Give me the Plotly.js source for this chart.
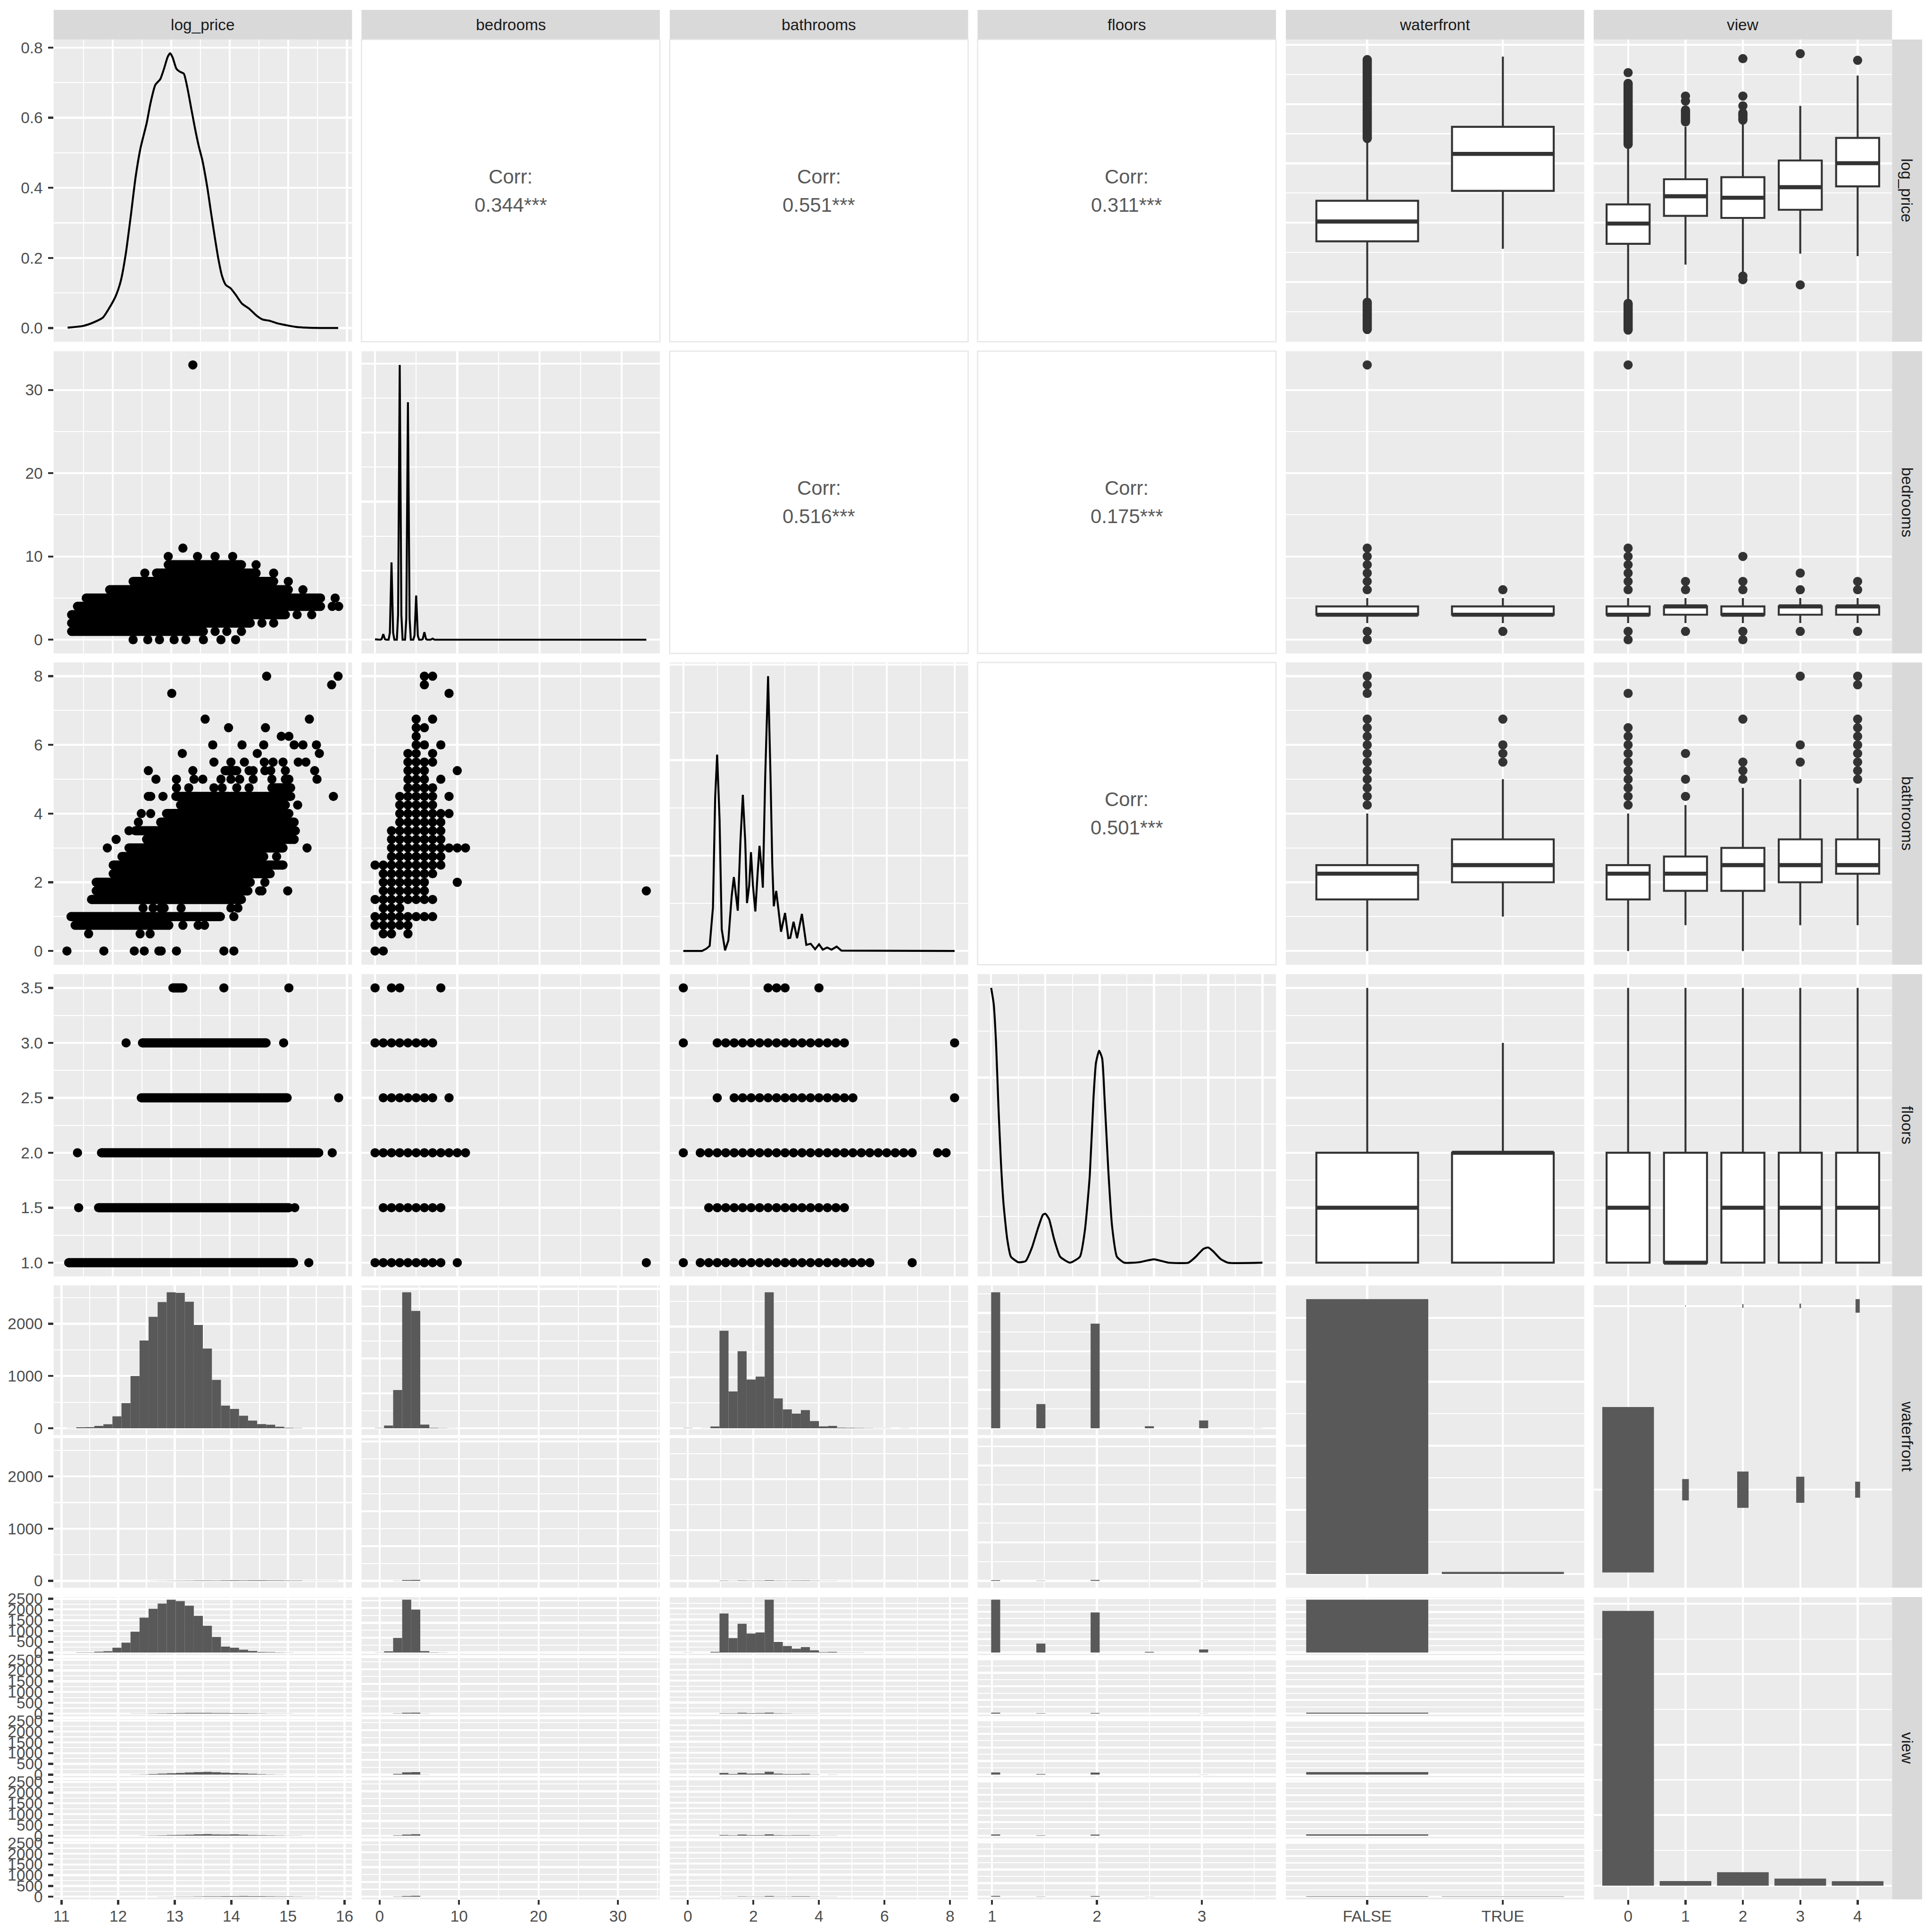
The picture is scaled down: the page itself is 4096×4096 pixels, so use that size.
<!DOCTYPE html>
<html><head><meta charset="utf-8">
<script src="https://cdn.plot.ly/plotly-3.0.1.min.js"></script>
<style>html,body{margin:0;padding:0;background:#fff}#chart{width:4096px;height:4096px}</style>
</head><body><div id="chart"></div>
<script>
// ====================== DATA ======================
const varNames = ['log_price', 'bedrooms', 'bathrooms', 'floors', 'waterfront', 'view'];
const varLimits = { log_price: [11.225, 15.857], bedrooms: [0, 33], bathrooms: [0, 8], floors: [1, 3.5] };
const waterfrontLevels = ['FALSE', 'TRUE'];
const viewLevels = ['0', '1', '2', '3', '4'];

const corrPairs = [['log_price', 'bedrooms'], ['log_price', 'bathrooms'], ['log_price', 'floors'],
                   ['bedrooms', 'bathrooms'], ['bedrooms', 'floors'], ['bathrooms', 'floors']];
const corrText = ['0.344***', '0.551***', '0.311***', '0.516***', '0.175***', '0.501***'];

// diagonal densities
const densLogPriceX = [11.232, 11.498, 11.675, 11.835, 11.928, 12.055, 12.139, 12.224, 12.308, 12.392, 12.477, 12.582, 12.646, 12.730, 12.814, 12.878, 12.941, 12.983, 13.025, 13.089, 13.152, 13.215, 13.278, 13.342, 13.405, 13.468, 13.532, 13.616, 13.679, 13.743, 13.806, 13.869, 13.932, 14.017, 14.101, 14.207, 14.333, 14.460, 14.565, 14.671, 14.819, 14.966, 15.135, 15.304, 15.557, 15.852];
const densLogPriceY = [0.001, 0.006, 0.016, 0.030, 0.053, 0.092, 0.134, 0.211, 0.317, 0.430, 0.514, 0.585, 0.641, 0.694, 0.710, 0.740, 0.774, 0.784, 0.772, 0.740, 0.731, 0.726, 0.684, 0.627, 0.571, 0.521, 0.479, 0.402, 0.331, 0.261, 0.197, 0.148, 0.123, 0.113, 0.095, 0.070, 0.055, 0.035, 0.024, 0.021, 0.013, 0.008, 0.003, 0.001, 0.000, 0.000];
const densBedroomsX = [0, 0.35, 0.65, 0.8, 0.9, 1, 1.1, 1.2, 1.35, 1.65, 1.8, 1.9, 2, 2.1, 2.2, 2.35, 2.65, 2.8, 2.9, 3, 3.1, 3.2, 3.35, 3.65, 3.8, 3.9, 4, 4.1, 4.2, 4.35, 4.65, 4.8, 4.9, 5, 5.1, 5.2, 5.35, 5.65, 5.8, 5.9, 6, 6.1, 6.2, 6.35, 6.75, 7, 7.25, 33];
const densBedroomsY = [0.003, 0, 0, 0.004, 0.022, 0.04, 0.022, 0.004, 0, 0, 0.05, 0.31, 0.56, 0.31, 0.05, 0, 0, 0.18, 1.09, 1.99, 1.09, 0.18, 0, 0, 0.155, 0.94, 1.72, 0.94, 0.155, 0, 0, 0.03, 0.18, 0.32, 0.18, 0.03, 0, 0, 0.005, 0.03, 0.055, 0.03, 0.005, 0, 0, 0.008, 0, 0];
const densBathroomsX = [0, 0.55, 0.68, 0.777, 0.874, 0.939, 0.997, 1.069, 1.133, 1.231, 1.328, 1.425, 1.49, 1.554, 1.606, 1.684, 1.755, 1.826, 1.878, 1.943, 1.995, 2.053, 2.124, 2.189, 2.247, 2.312, 2.345, 2.416, 2.5, 2.571, 2.623, 2.668, 2.740, 2.798, 2.882, 3.0, 3.096, 3.154, 3.251, 3.355, 3.497, 3.627, 3.756, 3.886, 4.003, 4.113, 4.242, 4.372, 4.521, 4.663, 4.987, 5.31, 8.0];
const densBathroomsY = [0, 0, 0.012, 0.027, 0.228, 0.804, 1.029, 0.689, 0.113, 0.003, 0.055, 0.286, 0.387, 0.286, 0.211, 0.574, 0.818, 0.574, 0.251, 0.343, 0.518, 0.343, 0.207, 0.401, 0.551, 0.424, 0.332, 0.919, 1.44, 0.919, 0.459, 0.234, 0.315, 0.228, 0.101, 0.199, 0.067, 0.069, 0.153, 0.067, 0.194, 0.032, 0.038, 0.009, 0.035, 0.007, 0.018, 0.007, 0.023, 0.002, 0.002, 0, 0];
const densFloorsX = [1.0, 1.023, 1.045, 1.068, 1.091, 1.114, 1.148, 1.182, 1.25, 1.318, 1.375, 1.432, 1.477, 1.5, 1.534, 1.580, 1.636, 1.727, 1.818, 1.864, 1.909, 1.943, 1.966, 1.995, 2.023, 2.045, 2.080, 2.114, 2.159, 2.227, 2.364, 2.5, 2.636, 2.818, 2.886, 2.955, 3.0, 3.045, 3.114, 3.182, 3.5];
const densFloorsY = [2.969, 2.80, 2.374, 1.66, 1.064, 0.636, 0.255, 0.064, 0.005, 0.017, 0.160, 0.374, 0.517, 0.529, 0.469, 0.255, 0.064, 0, 0.064, 0.35, 0.945, 1.779, 2.16, 2.29, 2.207, 1.779, 0.993, 0.398, 0.064, 0, 0.005, 0.036, 0, 0, 0.064, 0.148, 0.164, 0.124, 0.040, 0, 0];

// scatter: dense runs [yLevel, xFrom, xTo] and single points [yLevel, [x...]]
const scLpBedRuns = [[1, 11.30, 13.55], [2, 11.30, 14.35], [3, 11.30, 14.95], [4, 11.40, 15.55], [5, 11.55, 15.55], [6, 11.95, 15.0], [7, 12.35, 14.75], [8, 12.75, 14.45], [9, 12.95, 14.2]];
const scLpBedPts = [[0, [12.35, 12.6, 12.8, 13.05, 13.25, 13.55, 13.85, 14.1]], [1, [13.75, 13.95, 14.2]], [2, [14.55, 14.75]], [3, [15.15, 15.4]], [4, [15.75, 15.86]], [5, [15.8]], [6, [15.25]], [7, [15.0]], [8, [12.55, 14.75]], [9, [14.45]], [10, [12.95, 13.45, 13.75, 14.05]], [11, [13.2]], [33, [13.37]]];
const scLpBathRuns = [[0.75, 11.36, 12.96], [1.0, 11.29, 13.84], [1.5, 11.64, 14.20], [1.75, 11.72, 14.31], [2.0, 11.72, 14.35], [2.25, 12.01, 14.69], [2.5, 12.01, 14.91], [2.75, 12.16, 14.58], [3.0, 12.28, 14.91], [3.25, 12.58, 15.10], [3.5, 12.39, 15.12], [3.75, 12.82, 15.10], [4.0, 12.92, 15.01], [4.25, 13.16, 14.95], [4.5, 13.08, 15.04], [4.75, 14.72, 15.04], [5.25, 13.92, 14.12]];
const scLpBathPts = [[0, [11.22, 11.85, 12.37, 12.54, 12.79, 12.83, 13.09, 13.90, 14.07]], [0.5, [11.59, 12.47, 12.64]], [0.75, [13.20, 13.46, 13.57]], [1.0, [14.07]], [1.25, [12.52, 12.69, 12.82, 12.88, 13.17, 14.02, 14.14]], [1.75, [14.51, 14.55, 14.99]], [2.0, [14.60]], [2.75, [14.80]], [3.0, [11.91, 15.32]], [3.25, [12.06]], [3.5, [12.28]], [3.75, [12.44]], [4.0, [12.49, 12.65]], [4.25, [15.16]], [4.5, [12.61, 12.65, 12.86, 15.77]], [4.75, [13.09, 13.30, 13.73, 13.87, 14.12, 14.33]], [5.0, [12.74, 13.09, 13.39, 13.54, 13.85, 14.02, 14.17, 14.40, 14.72, 14.95, 15.01, 15.49]], [5.25, [12.61, 13.37, 14.33, 14.40, 14.60, 14.70, 14.95, 15.45]], [5.5, [13.73, 14.02, 14.25, 14.59, 14.74, 14.91, 15.17, 15.30]], [5.75, [13.19, 14.47, 15.53]], [6.0, [13.71, 14.21, 14.58, 15.10, 15.25, 15.48]], [6.25, [14.88, 15.01]], [6.5, [13.98, 14.61]], [6.75, [13.58, 15.36]], [7.5, [13.01]], [7.75, [15.74]], [8.0, [14.63, 15.85]]];
const scBedBathPts = [[0, [0, 1]], [0.5, [1, 2, 4]], [0.75, [0, 1, 2, 3, 4]], [1.0, [0, 1, 2, 3, 4, 5, 6, 7]], [1.25, [1, 2, 3]], [1.5, [0, 1, 2, 3, 4, 5, 6, 7]], [1.75, [1, 2, 3, 4, 5, 6, 33]], [2.0, [1, 2, 3, 4, 5, 6, 10]], [2.25, [1, 2, 3, 4, 5, 6, 7]], [2.5, [0, 1, 2, 3, 4, 5, 6, 7, 8]], [2.75, [2, 3, 4, 5, 6, 7, 8]], [3.0, [2, 3, 4, 5, 6, 7, 8, 9, 10, 11]], [3.25, [2, 3, 4, 5, 6, 7, 8]], [3.5, [2, 3, 4, 5, 6, 7, 8]], [3.75, [3, 4, 5, 6, 7, 8]], [4.0, [3, 4, 5, 6, 7, 8, 9]], [4.25, [3, 4, 5, 6, 7]], [4.5, [3, 4, 5, 6, 7, 9]], [4.75, [4, 5, 6, 7]], [5.0, [4, 5, 6, 8]], [5.25, [4, 5, 6, 10]], [5.5, [4, 5, 6, 7]], [5.75, [4, 5, 7]], [6.0, [5, 6, 8]], [6.25, [5]], [6.5, [5, 6]], [6.75, [5, 7]], [7.5, [9]], [7.75, [6]], [8.0, [6, 7]]];
const scLpFloorRuns = [[3.5, 13.03, 13.20], [3.0, 12.51, 14.62], [2.5, 12.49, 14.98], [2.0, 11.81, 15.52], [1.5, 11.76, 15.01], [1.0, 11.25, 15.09]];
const scLpFloorPts = [[3.5, [13.90, 15.01]], [3.0, [12.23, 14.92]], [2.5, [15.86]], [2.0, [11.40, 15.75]], [1.5, [11.42, 15.11]], [1.0, [15.35]]];
const scBedFloorPts = [[3.5, [0, 2, 3, 8]], [3.0, [0, 1, 2, 3, 4, 5, 6, 7]], [2.5, [1, 2, 3, 4, 5, 6, 7, 9]], [2.0, [0, 1, 2, 3, 4, 5, 6, 7, 8, 9, 10, 11]], [1.5, [1, 2, 3, 4, 5, 6, 7, 8]], [1.0, [0, 1, 2, 3, 4, 5, 6, 7, 8, 10, 33]]];
const scBathFloorPts = [[3.5, [0, 2.5, 2.75, 3, 4]],
  [3.0, [0, 1, 1.25, 1.5, 1.75, 2, 2.25, 2.5, 2.75, 3, 3.25, 3.5, 3.75, 4, 4.25, 4.5, 4.75, 8]],
  [2.5, [1, 1.5, 1.75, 2, 2.25, 2.5, 2.75, 3, 3.25, 3.5, 3.75, 4, 4.25, 4.5, 4.75, 5, 8]],
  [2.0, [0, 0.5, 0.75, 1, 1.25, 1.5, 1.75, 2, 2.25, 2.5, 2.75, 3, 3.25, 3.5, 3.75, 4, 4.25, 4.5, 4.75, 5, 5.25, 5.5, 5.75, 6, 6.25, 6.5, 6.75, 7.5, 7.75]],
  [1.5, [0.75, 1, 1.25, 1.5, 1.75, 2, 2.25, 2.5, 2.75, 3, 3.25, 3.5, 3.75, 4, 4.25, 4.5, 4.75]],
  [1.0, [0, 0.5, 0.75, 1, 1.25, 1.5, 1.75, 2, 2.25, 2.5, 2.75, 3, 3.25, 3.5, 3.75, 4, 4.25, 4.5, 4.75, 5, 5.25, 5.5, 6.75]]];

// box plots: each row = [q1, median, q3, whiskerLow, whiskerHigh]
const boxLpByWaterfront = [[12.687, 13.02, 13.37, 11.69, 14.39], [13.537, 14.16, 14.617, 12.56, 15.80]];
const outLpByWaterfront = [[], []];
const runLpByWaterfront = [[[14.42, 15.75], [11.20, 11.66]], []];
const boxLpByView = [[12.645, 12.985, 13.309, 11.655, 14.30], [13.115, 13.446, 13.733, 12.293, 14.617], [13.081, 13.421, 13.767, 12.168, 14.679], [13.218, 13.599, 14.049, 12.478, 14.97], [13.612, 14.003, 14.43, 12.437, 15.48]];
const outLpByView = [[15.53], [15.05, 15.135], [15.766, 15.135, 14.97, 12.10, 12.04], [15.85, 11.952], [15.738]];
const runLpByView = [[[14.32, 15.35], [11.19, 11.64]], [[14.70, 14.90]], [[14.73, 14.85]], [], []];
const boxBedByWaterfront = [[3, 3, 4, 2, 5], [3, 3, 4, 2, 5]];
const outBedByWaterfront = [[0, 1, 6, 7, 8, 9, 10, 11, 33], [1, 6]];
const boxBedByView = [[3, 3, 4, 2, 5], [3, 4, 4, 2, 5], [3, 3, 4, 2, 5], [3, 4, 4, 2, 5], [3, 4, 4, 2, 5]];
const outBedByView = [[0, 1, 6, 7, 8, 9, 10, 11, 33], [1, 6, 7], [0, 1, 6, 7, 10], [1, 6, 8], [1, 6, 7]];
const boxBathByWaterfront = [[1.5, 2.25, 2.5, 0, 4.0], [2.0, 2.5, 3.25, 1.0, 5.0]];
const outBathByWaterfront = [[4.25, 4.5, 4.75, 5, 5.25, 5.5, 5.75, 6, 6.25, 6.5, 6.75, 7.5, 7.75, 8], [5.5, 5.75, 6.0, 6.75]];
const boxBathByView = [[1.5, 2.25, 2.5, 0, 4.0], [1.75, 2.25, 2.75, 0.75, 4.25], [1.75, 2.5, 3.0, 0, 4.75], [2.0, 2.5, 3.25, 0.75, 5.0], [2.25, 2.5, 3.25, 0.75, 4.75]];
const outBathByView = [[4.25, 4.5, 4.75, 5, 5.25, 5.5, 5.75, 6, 6.25, 6.5, 7.5], [4.5, 5.0, 5.75], [5.0, 5.25, 5.5, 6.75], [5.5, 6.0, 8.0], [5.0, 5.25, 5.5, 5.75, 6.0, 6.25, 6.5, 6.75, 7.75, 8.0]];
const boxFloorByWaterfront = [[1, 1.5, 2, 1, 3.5], [1, 2, 2, 1, 3]];
const boxFloorByView = [[1, 1.5, 2, 1, 3.5], [1, 1, 2, 1, 3.5], [1, 1.5, 2, 1, 3.5], [1, 1.5, 2, 1, 3.5], [1, 1.5, 2, 1, 3.5]];

// histograms: log_price bin counts (30 bins)
const lpBinsWfFalse = [2, 17, 21, 46, 76, 227, 480, 1001, 1679, 2133, 2415, 2604, 2592, 2423, 1977, 1527, 926, 433, 370, 240, 147, 80, 67, 29, 8, 4, 1, 1, 0, 1];
const lpBinsWfTrue = [0, 0, 0, 0, 0, 0, 0, 0, 0, 2, 3, 4, 5, 6, 8, 8, 7, 10, 11, 10, 12, 11, 10, 9, 8, 7, 4, 3, 2, 2];
const lpBinsView0 = [2, 10, 10, 40, 60, 225, 460, 970, 1622, 2030, 2275, 2451, 2388, 2173, 1704, 1245, 724, 276, 225, 133, 71, 30, 20, 10, 3, 1, 0, 0, 0, 0];
const lpBinsView1 = [0, 0, 0, 0, 0, 0, 1, 2, 4, 8, 14, 20, 26, 30, 32, 30, 28, 25, 22, 18, 14, 9, 5, 3, 2, 1, 0, 0, 0, 0];
const lpBinsView2 = [0, 0, 0, 0, 0, 1, 3, 6, 14, 28, 45, 62, 80, 100, 118, 130, 110, 90, 72, 55, 40, 25, 16, 10, 5, 3, 2, 1, 0, 0];
const lpBinsView3 = [0, 0, 0, 0, 0, 0, 1, 2, 5, 10, 17, 26, 34, 45, 60, 70, 55, 50, 60, 45, 30, 22, 15, 10, 6, 4, 2, 1, 0, 0];
const lpBinsView4 = [0, 0, 0, 0, 0, 0, 0, 0, 1, 2, 4, 6, 9, 12, 16, 22, 24, 26, 28, 30, 28, 26, 22, 18, 14, 10, 6, 3, 2, 1];
// discrete variables: counts per level
const bedLevels = [0, 1, 2, 3, 4, 5, 6, 7, 8, 9, 10, 11, 33];
const bedCountsWfFalse = [13, 196, 2745, 9760, 6830, 1585, 265, 37, 13, 6, 3, 1, 1];
const bedCountsWfTrue = [0, 3, 15, 64, 56, 18, 7, 0, 0, 0, 0, 0, 0];
const bedCountsView0 = [12, 190, 2470, 8900, 5900, 1340, 230, 32, 11, 6, 3, 1, 1];
const bedCountsView1 = [0, 2, 40, 130, 120, 30, 7, 3, 0, 0, 0, 0, 0];
const bedCountsView2 = [1, 4, 130, 380, 330, 90, 20, 5, 0, 0, 1, 0, 0];
const bedCountsView3 = [0, 2, 60, 190, 190, 55, 10, 0, 1, 0, 0, 0, 0];
const bedCountsView4 = [0, 1, 40, 110, 125, 34, 7, 2, 0, 0, 0, 0, 0];
const bathLevels = [0, 0.5, 0.75, 1, 1.25, 1.5, 1.75, 2, 2.25, 2.5, 2.75, 3, 3.25, 3.5, 3.75, 4, 4.25, 4.5, 4.75, 5, 5.25, 5.5, 5.75, 6, 6.25, 6.5, 6.75, 7.5, 7.75, 8];
const bathCountsWfFalse = [10, 4, 72, 3840, 9, 1440, 3032, 1920, 2035, 5356, 1173, 743, 575, 715, 150, 131, 74, 94, 21, 18, 12, 9, 3, 5, 2, 2, 1, 1, 1, 2];
const bathCountsWfTrue = [0, 0, 0, 12, 0, 6, 16, 10, 12, 24, 12, 10, 14, 16, 5, 5, 5, 6, 2, 3, 1, 1, 1, 1, 0, 0, 1, 0, 0, 0];
const bathCountsView0 = [10, 4, 68, 3550, 9, 1300, 2620, 1725, 1825, 4800, 970, 595, 340, 495, 110, 90, 42, 60, 12, 10, 6, 4, 2, 2, 1, 1, 0, 1, 0, 0];
const bathCountsView1 = [0, 0, 1, 30, 0, 25, 70, 40, 50, 80, 25, 15, 12, 10, 3, 2, 2, 2, 0, 1, 0, 0, 1, 0, 0, 0, 0, 0, 0, 0];
const bathCountsView2 = [1, 0, 2, 150, 0, 60, 180, 90, 100, 260, 90, 60, 60, 80, 16, 14, 10, 15, 4, 4, 2, 2, 0, 0, 0, 0, 1, 0, 0, 0];
const bathCountsView3 = [0, 0, 1, 60, 0, 30, 100, 40, 45, 120, 40, 30, 40, 50, 10, 10, 8, 10, 2, 3, 0, 2, 0, 1, 0, 0, 0, 0, 0, 1];
const bathCountsView4 = [0, 0, 1, 15, 0, 10, 30, 20, 25, 60, 25, 25, 40, 40, 12, 13, 10, 12, 4, 3, 3, 2, 1, 1, 1, 1, 1, 0, 1, 1];
const floorLevels = [1, 1.5, 2, 2.5, 3, 3.5];
const floorCountsWfFalse = [10620, 1890, 8170, 158, 605, 8];
const floorCountsWfTrue = [60, 20, 72, 3, 8, 0];
const floorCountsView0 = [9700, 1650, 7370, 120, 560, 4];
const floorCountsView1 = [160, 50, 110, 4, 7, 1];
const floorCountsView2 = [410, 110, 370, 15, 25, 1];
const floorCountsView3 = [230, 60, 200, 10, 10, 1];
const floorCountsView4 = [140, 40, 125, 10, 4, 1];
// categorical counts
const waterfrontCounts = [21450, 163];
const viewCounts = [19489, 327, 950, 498, 312];
const viewCountsWfFalse = [19489, 325, 940, 483, 182];
const viewCountsWfTrue = [0, 2, 10, 15, 130];

// ====================== STYLE / GEOMETRY ======================
const W = 4500;                       // reference pixel space; paper fraction = px / W
const COL_L = [125, 842, 1560, 2277, 2995, 3712], PW = 695;
const ROW_T = [92, 818, 1543, 2269, 2994, 3720], PH = 704;
const SUB_GAP = 7;
const STRIP_TOP = 23, STRIP_RIGHT_L = 4407, STRIP_RIGHT_R = 4477;
const FONT = 'Liberation Sans, Arial, Helvetica, sans-serif';
const TICK_FS = 33.4, STRIP_FS = 33.4, CORR_FS = 41.9;
const GRID_MAJ = 4.3, GRID_MIN = 2.1, TICK_W = 4.3, TICK_LEN = 10.5;
const PT = 19.5, LINE_W = 4.2, BOX_W = 4.2, MED_W = 8.6;
const BAR_COL = '#595959', BOX_COL = '#333333';
const COUNT_Y_RANGE = [0.467, 2.1115];

// ====================== HELPERS ======================
function extendedBreaks(dmin, dmax, m = 5) {
  const Q = [1, 5, 2, 2.5, 4, 3], w = [0.25, 0.2, 0.5, 0.05];
  const n = Q.length, eps = 1e-10;
  const mod = (a, b) => ((a % b) + b) % b;
  const simplicity = (i, j, lmin, lmax, lstep) => {
    const r = mod(lmin, lstep);
    const v = ((r < eps || lstep - r < eps) && lmin <= 0 && lmax >= 0) ? 1 : 0;
    return 1 - i / (n - 1) - j + v;
  };
  const simplicityMax = (i, j) => 1 - i / (n - 1) - j + 1;
  const rng = dmax - dmin;
  const coverage = (lmin, lmax) => 1 - 0.5 * ((dmax - lmax) ** 2 + (dmin - lmin) ** 2) / ((0.1 * rng) ** 2);
  const coverageMax = span => { if (span > rng) { const h = (span - rng) / 2; return 1 - 0.5 * (2 * h * h) / ((0.1 * rng) ** 2); } return 1; };
  const density = (k, lmin, lmax) => { const r = (k - 1) / (lmax - lmin); const rt = (m - 1) / (Math.max(lmax, dmax) - Math.min(dmin, lmin)); return 2 - Math.max(r / rt, rt / r); };
  const densityMax = k => k >= m ? 2 - (k - 1) / (m - 1) : 1;
  let best = { score: -2 };
  let j = 1;
  outer: while (j < 40) {
    for (let qi = 0; qi < n; qi++) {
      const q = Q[qi];
      const sm = simplicityMax(qi, j);
      if (w[0] * sm + w[1] + w[2] + w[3] < best.score) break outer;
      let k = 2;
      while (k < 40) {
        const dm = densityMax(k);
        if (w[0] * sm + w[1] + w[2] * dm + w[3] < best.score) break;
        const delta = rng / (k + 1) / j / q;
        let z = Math.ceil(Math.log10(delta));
        while (z < 30) {
          const step = j * q * Math.pow(10, z);
          const cm = coverageMax(step * (k - 1));
          if (w[0] * sm + w[1] * cm + w[2] * dm + w[3] < best.score) break;
          const minStart = Math.floor(dmax / step) * j - (k - 1) * j;
          const maxStart = Math.ceil(dmin / step) * j;
          if (minStart > maxStart) { z++; continue; }
          for (let start = minStart; start <= maxStart; start++) {
            const lmin = start * (step / j), lmax = lmin + step * (k - 1);
            const score = w[0] * simplicity(qi, j, lmin, lmax, step) + w[1] * coverage(lmin, lmax) + w[2] * density(k, lmin, lmax) + w[3];
            if (score > best.score) best = { lmin, lmax, lstep: step, score };
          }
          z++;
        }
        k++;
      }
    }
    j++;
  }
  const out = [];
  for (let i = 0; ; i++) { const v = best.lmin + i * best.lstep; if (v > best.lmax + best.lstep * 1e-6) break; out.push(+v.toFixed(10)); }
  return out;
}
function minorBreaks(major, range) {
  if (major.length < 2) return [];
  const bd = major[1] - major[0];
  const b = major.slice();
  if (range[0] < b[0]) b.unshift(b[0] - bd);
  if (range[1] > b[b.length - 1]) b.push(b[b.length - 1] + bd);
  const out = [];
  for (let i = 0; i < b.length - 1; i++) out.push((b[i] + b[i + 1]) / 2);
  return out.filter(v => v >= range[0] && v <= range[1]);
}
function fmtLabels(vals) {
  let d = 0;
  vals.forEach(v => { const s = String(+v.toFixed(8)); const i = s.indexOf('.'); if (i >= 0) d = Math.max(d, s.length - i - 1); });
  return vals.map(v => v.toFixed(d));
}
const expand = (lo, hi) => { const d = hi - lo; return [lo - 0.05 * d, hi + 0.05 * d]; };
function contSpec(range) {
  const major = extendedBreaks(range[0], range[1]).filter(v => v >= range[0] - 1e-9 && v <= range[1] + 1e-9);
  return { range, major, minor: minorBreaks(major, range), labels: fmtLabels(major) };
}
function discSpec(labels) { return { range: [0.4, labels.length + 0.6], major: labels.map((_, i) => i + 1), minor: [], labels }; }

const traces = [];
const layout = {
  width: 4096, height: 4096, margin: { l: 0, r: 0, t: 0, b: 0 },
  paper_bgcolor: '#FFFFFF', plot_bgcolor: '#EBEBEB', showlegend: false, barmode: 'overlay',
  font: { family: FONT }, shapes: [], annotations: []
};
let axCount = 0;
function axisDef(spec, domain, anchor, show, isX) {
  return {
    domain, anchor, range: spec.range, autorange: false, fixedrange: true,
    showgrid: true, gridcolor: '#FFFFFF', gridwidth: GRID_MAJ, zeroline: false, showline: false,
    tickmode: 'array', tickvals: spec.major, ticktext: spec.labels,
    ticks: show ? 'outside' : '', ticklen: TICK_LEN, tickwidth: TICK_W, tickcolor: '#333333',
    showticklabels: show, tickfont: { family: FONT, size: TICK_FS, color: '#4D4D4D' }, ticklabelstandoff: isX ? -4 : 5,
    minor: { showgrid: spec.minor.length > 0, gridcolor: '#FFFFFF', gridwidth: GRID_MIN, tickmode: 'array', tickvals: spec.minor, ticks: '' }
  };
}
function addPanel(rect, xs, ys, showX, showY) {
  axCount++;
  const s = axCount === 1 ? '' : String(axCount);
  layout['xaxis' + s] = axisDef(xs, [rect.left / W, (rect.left + rect.w) / W], 'y' + s, showX, true);
  layout['yaxis' + s] = axisDef(ys, [1 - (rect.top + rect.h) / W, 1 - rect.top / W], 'x' + s, showY, false);
  return { x: 'x' + s, y: 'y' + s };
}
const cell = (r, c) => ({ left: COL_L[c], top: ROW_T[r], w: PW, h: PH });
function subCell(r, c, i, n) { const h = (PH - SUB_GAP * (n - 1)) / n; return { left: COL_L[c], top: ROW_T[r] + i * (h + SUB_GAP), w: PW, h }; }

function addLine(ax, x, y, smooth) {
  traces.push({ type: 'scatter', mode: 'lines', x, y, xaxis: ax.x, yaxis: ax.y, line: { color: '#000000', width: LINE_W, shape: smooth ? 'spline' : 'linear', smoothing: smooth || 0 }, hoverinfo: 'skip' });
}
function addPoints(ax, rows, color) {
  const x = [], y = [];
  rows.forEach(([lev, vals]) => vals.forEach(v => { x.push(v); y.push(lev); }));
  traces.push({ type: 'scatter', mode: 'markers', x, y, xaxis: ax.x, yaxis: ax.y, marker: { size: PT, color: color || '#000000', line: { width: 0 } }, hoverinfo: 'skip' });
}
function addRuns(ax, runs, color) {
  const x = [], y = [];
  runs.forEach(([lev, a, b]) => { x.push(a, b, null); y.push(lev, lev, null); });
  traces.push({ type: 'scatter', mode: 'lines+markers', x, y, xaxis: ax.x, yaxis: ax.y, line: { color: color || '#000000', width: PT }, marker: { size: PT, color: color || '#000000', line: { width: 0 } }, hoverinfo: 'skip' });
}
function addBoxes(ax, stats, outs, runs) {
  const pos = stats.map((_, i) => i + 1);
  traces.push({ type: 'box', x: pos, q1: stats.map(s => s[0]), median: stats.map(s => s[1]), q3: stats.map(s => s[2]),
    lowerfence: stats.map(s => s[3]), upperfence: stats.map(s => s[4]), width: 0.75, whiskerwidth: 0,
    fillcolor: '#FFFFFF', line: { color: BOX_COL, width: BOX_W }, boxpoints: false, xaxis: ax.x, yaxis: ax.y, hoverinfo: 'skip' });
  const mx = [], my = [];
  stats.forEach((s, i) => { mx.push(i + 1 - 0.375, i + 1 + 0.375, null); my.push(s[1], s[1], null); });
  traces.push({ type: 'scatter', mode: 'lines', x: mx, y: my, xaxis: ax.x, yaxis: ax.y, line: { color: BOX_COL, width: MED_W }, hoverinfo: 'skip' });
  if (outs) {
    const ox = [], oy = [];
    outs.forEach((arr, i) => arr.forEach(v => { ox.push(i + 1); oy.push(v); }));
    traces.push({ type: 'scatter', mode: 'markers', x: ox, y: oy, xaxis: ax.x, yaxis: ax.y, marker: { size: PT, color: BOX_COL, line: { width: 0 } }, hoverinfo: 'skip' });
  }
  if (runs) {
    const rx = [], ry = [];
    runs.forEach((arr, i) => arr.forEach(([a, b]) => { rx.push(i + 1, i + 1, null); ry.push(a, b, null); }));
    traces.push({ type: 'scatter', mode: 'lines+markers', x: rx, y: ry, xaxis: ax.x, yaxis: ax.y, line: { color: BOX_COL, width: PT }, marker: { size: PT, color: BOX_COL, line: { width: 0 } }, hoverinfo: 'skip' });
  }
}
function addBars(ax, x, y, width) {
  traces.push({ type: 'bar', x, y, width, xaxis: ax.x, yaxis: ax.y, marker: { color: BAR_COL, line: { width: 0 } }, hoverinfo: 'skip' });
}
function binSetup(v) {
  const [lo, hi] = varLimits[v];
  const width = (hi - lo) / 29, boundary = width / 2;
  const origin = boundary + Math.floor((lo - boundary) / width) * width;
  const nb = Math.floor((hi + (1 - 1e-8) * width - origin) / width);
  const centers = []; for (let k = 0; k < nb; k++) centers.push(origin + (k + 0.5) * width);
  return { origin, width, nb, centers, range: expand(origin, origin + nb * width) };
}
function binLevels(levels, counts, b) {
  const out = new Array(b.nb).fill(0);
  levels.forEach((v, i) => { let k = Math.ceil((v - b.origin) / b.width - 1e-7) - 1; k = Math.max(0, Math.min(b.nb - 1, k)); out[k] += counts[i]; });
  return out;
}
function histFacets(r, c, b, facets) {
  const M = Math.max(...facets.map(f => Math.max(...f)));
  const ys = contSpec([-0.05 * M, 1.05 * M]);
  const xs = contSpec(b.range);
  facets.forEach((f, i) => {
    const ax = addPanel(subCell(r, c, i, facets.length), xs, ys, r === 5 && i === facets.length - 1, c === 0);
    addBars(ax, b.centers, f, b.width);
  });
}

// ====================== BUILD ======================
const idx = v => varNames.indexOf(v);
const spec = {
  log_price: contSpec(expand(...varLimits.log_price)),
  bedrooms: contSpec(expand(...varLimits.bedrooms)),
  bathrooms: contSpec(expand(...varLimits.bathrooms)),
  floors: contSpec(expand(...varLimits.floors)),
  waterfront: discSpec(waterfrontLevels),
  view: discSpec(viewLevels)
};
const densSpec = ys => contSpec([-0.05 * Math.max(...ys), 1.05 * Math.max(...ys)]);

// strips
varNames.forEach((v, i) => {
  layout.shapes.push({ type: 'rect', xref: 'paper', yref: 'paper', x0: COL_L[i] / W, x1: (COL_L[i] + PW) / W, y0: 1 - ROW_T[0] / W, y1: 1 - STRIP_TOP / W, fillcolor: '#D9D9D9', line: { width: 0 }, layer: 'below' });
  layout.annotations.push({ xref: 'paper', yref: 'paper', x: (COL_L[i] + PW / 2) / W, y: 1 - (STRIP_TOP + ROW_T[0]) / 2 / W, text: v, showarrow: false, xanchor: 'center', yanchor: 'middle', font: { family: FONT, size: STRIP_FS, color: '#1A1A1A' } });
  layout.shapes.push({ type: 'rect', xref: 'paper', yref: 'paper', x0: STRIP_RIGHT_L / W, x1: STRIP_RIGHT_R / W, y0: 1 - (ROW_T[i] + PH) / W, y1: 1 - ROW_T[i] / W, fillcolor: '#D9D9D9', line: { width: 0 }, layer: 'below' });
  layout.annotations.push({ xref: 'paper', yref: 'paper', x: (STRIP_RIGHT_L + STRIP_RIGHT_R) / 2 / W, y: 1 - (ROW_T[i] + PH / 2) / W, text: v, textangle: 90, showarrow: false, xanchor: 'center', yanchor: 'middle', font: { family: FONT, size: STRIP_FS, color: '#1A1A1A' } });
});

// correlation cells
corrPairs.forEach(([a, b], k) => {
  const r = idx(a), c = idx(b);
  layout.shapes.push({ type: 'rect', xref: 'paper', yref: 'paper', x0: COL_L[c] / W, x1: (COL_L[c] + PW) / W, y0: 1 - (ROW_T[r] + PH) / W, y1: 1 - ROW_T[r] / W, fillcolor: '#FFFFFF', line: { color: '#E6E6E6', width: 2.5 }, layer: 'below' });
  const cx = (COL_L[c] + PW / 2) / W, cy = ROW_T[r] + PH / 2;
  layout.annotations.push({ xref: 'paper', yref: 'paper', x: cx, y: 1 - (cy - 33) / W, text: 'Corr:', showarrow: false, xanchor: 'center', yanchor: 'middle', font: { family: FONT, size: CORR_FS, color: '#595959' } });
  layout.annotations.push({ xref: 'paper', yref: 'paper', x: cx, y: 1 - (cy + 33) / W, text: corrText[k], showarrow: false, xanchor: 'center', yanchor: 'middle', font: { family: FONT, size: CORR_FS, color: '#595959' } });
});

// row 1
let ax = addPanel(cell(0, 0), spec.log_price, densSpec(densLogPriceY), false, true);
addLine(ax, densLogPriceX, densLogPriceY, 0.6);
ax = addPanel(cell(0, 4), spec.waterfront, spec.log_price, false, false);
addBoxes(ax, boxLpByWaterfront, outLpByWaterfront, runLpByWaterfront);
ax = addPanel(cell(0, 5), spec.view, spec.log_price, false, false);
addBoxes(ax, boxLpByView, outLpByView, runLpByView);

// row 2
ax = addPanel(cell(1, 0), spec.log_price, spec.bedrooms, false, true);
addRuns(ax, scLpBedRuns); addPoints(ax, scLpBedPts);
ax = addPanel(cell(1, 1), spec.bedrooms, densSpec(densBedroomsY), false, false);
addLine(ax, densBedroomsX, densBedroomsY);
ax = addPanel(cell(1, 4), spec.waterfront, spec.bedrooms, false, false);
addBoxes(ax, boxBedByWaterfront, outBedByWaterfront);
ax = addPanel(cell(1, 5), spec.view, spec.bedrooms, false, false);
addBoxes(ax, boxBedByView, outBedByView);

// row 3
ax = addPanel(cell(2, 0), spec.log_price, spec.bathrooms, false, true);
addRuns(ax, scLpBathRuns); addPoints(ax, scLpBathPts);
ax = addPanel(cell(2, 1), spec.bedrooms, spec.bathrooms, false, false);
addPoints(ax, scBedBathPts);
ax = addPanel(cell(2, 2), spec.bathrooms, densSpec(densBathroomsY), false, false);
addLine(ax, densBathroomsX, densBathroomsY);
ax = addPanel(cell(2, 4), spec.waterfront, spec.bathrooms, false, false);
addBoxes(ax, boxBathByWaterfront, outBathByWaterfront);
ax = addPanel(cell(2, 5), spec.view, spec.bathrooms, false, false);
addBoxes(ax, boxBathByView, outBathByView);

// row 4
ax = addPanel(cell(3, 0), spec.log_price, spec.floors, false, true);
addRuns(ax, scLpFloorRuns); addPoints(ax, scLpFloorPts);
ax = addPanel(cell(3, 1), spec.bedrooms, spec.floors, false, false);
addPoints(ax, scBedFloorPts);
ax = addPanel(cell(3, 2), spec.bathrooms, spec.floors, false, false);
addPoints(ax, scBathFloorPts);
ax = addPanel(cell(3, 3), spec.floors, densSpec(densFloorsY), false, false);
addLine(ax, densFloorsX, densFloorsY, 0.5);
ax = addPanel(cell(3, 4), spec.waterfront, spec.floors, false, false);
addBoxes(ax, boxFloorByWaterfront);
ax = addPanel(cell(3, 5), spec.view, spec.floors, false, false);
addBoxes(ax, boxFloorByView);

// rows 5-6: faceted histograms
const bLp = binSetup('log_price'), bBed = binSetup('bedrooms'), bBath = binSetup('bathrooms'), bFloor = binSetup('floors');
histFacets(4, 0, bLp, [lpBinsWfFalse, lpBinsWfTrue]);
histFacets(4, 1, bBed, [binLevels(bedLevels, bedCountsWfFalse, bBed), binLevels(bedLevels, bedCountsWfTrue, bBed)]);
histFacets(4, 2, bBath, [binLevels(bathLevels, bathCountsWfFalse, bBath), binLevels(bathLevels, bathCountsWfTrue, bBath)]);
histFacets(4, 3, bFloor, [binLevels(floorLevels, floorCountsWfFalse, bFloor), binLevels(floorLevels, floorCountsWfTrue, bFloor)]);
histFacets(5, 0, bLp, [lpBinsView0, lpBinsView1, lpBinsView2, lpBinsView3, lpBinsView4]);
histFacets(5, 1, bBed, [bedCountsView0, bedCountsView1, bedCountsView2, bedCountsView3, bedCountsView4].map(c => binLevels(bedLevels, c, bBed)));
histFacets(5, 2, bBath, [bathCountsView0, bathCountsView1, bathCountsView2, bathCountsView3, bathCountsView4].map(c => binLevels(bathLevels, c, bBath)));
histFacets(5, 3, bFloor, [floorCountsView0, floorCountsView1, floorCountsView2, floorCountsView3, floorCountsView4].map(c => binLevels(floorLevels, c, bFloor)));

// (5,5) waterfront bar
ax = addPanel(cell(4, 4), spec.waterfront, contSpec([-0.05 * Math.max(...waterfrontCounts), 1.05 * Math.max(...waterfrontCounts)]), false, false);
addBars(ax, [1, 2], waterfrontCounts, 0.9);

// (5,6) count rectangles view x waterfront
ax = addPanel(cell(4, 5), spec.view, { range: COUNT_Y_RANGE, major: [1, 2], minor: [], labels: waterfrontLevels }, false, false);
{
  const maxN = Math.max(...viewCountsWfFalse, ...viewCountsWfTrue);
  const rx = [], ry = [];
  [viewCountsWfFalse, viewCountsWfTrue].forEach((arr, j) => arr.forEach((n, i) => {
    if (n <= 0) return;
    const s = 0.45 * Math.sqrt(n / maxN), cx = i + 1, cy = j + 1;
    rx.push(cx - s, cx + s, cx + s, cx - s, cx - s, null);
    ry.push(cy - s, cy - s, cy + s, cy + s, cy - s, null);
  }));
  traces.push({ type: 'scatter', mode: 'lines', x: rx, y: ry, fill: 'toself', fillcolor: BAR_COL, line: { width: 0, color: BAR_COL }, xaxis: ax.x, yaxis: ax.y, hoverinfo: 'skip' });
}

// (6,5) facet bar: waterfront by view
{
  const facets = viewLevels.map((_, i) => [viewCountsWfFalse[i], viewCountsWfTrue[i]]);
  const M = Math.max(...facets.map(f => Math.max(...f)));
  const ys = contSpec([-0.05 * M, 1.05 * M]);
  facets.forEach((f, i) => {
    const a = addPanel(subCell(5, 4, i, 5), spec.waterfront, ys, i === 4, false);
    addBars(a, [1, 2], f, 0.9);
  });
}

// (6,6) view bar
ax = addPanel(cell(5, 5), spec.view, contSpec([-0.05 * Math.max(...viewCounts), 1.05 * Math.max(...viewCounts)]), true, false);
addBars(ax, [1, 2, 3, 4, 5], viewCounts, 0.9);

Plotly.newPlot('chart', traces, layout, { staticPlot: true, displayModeBar: false });
</script></body></html>
